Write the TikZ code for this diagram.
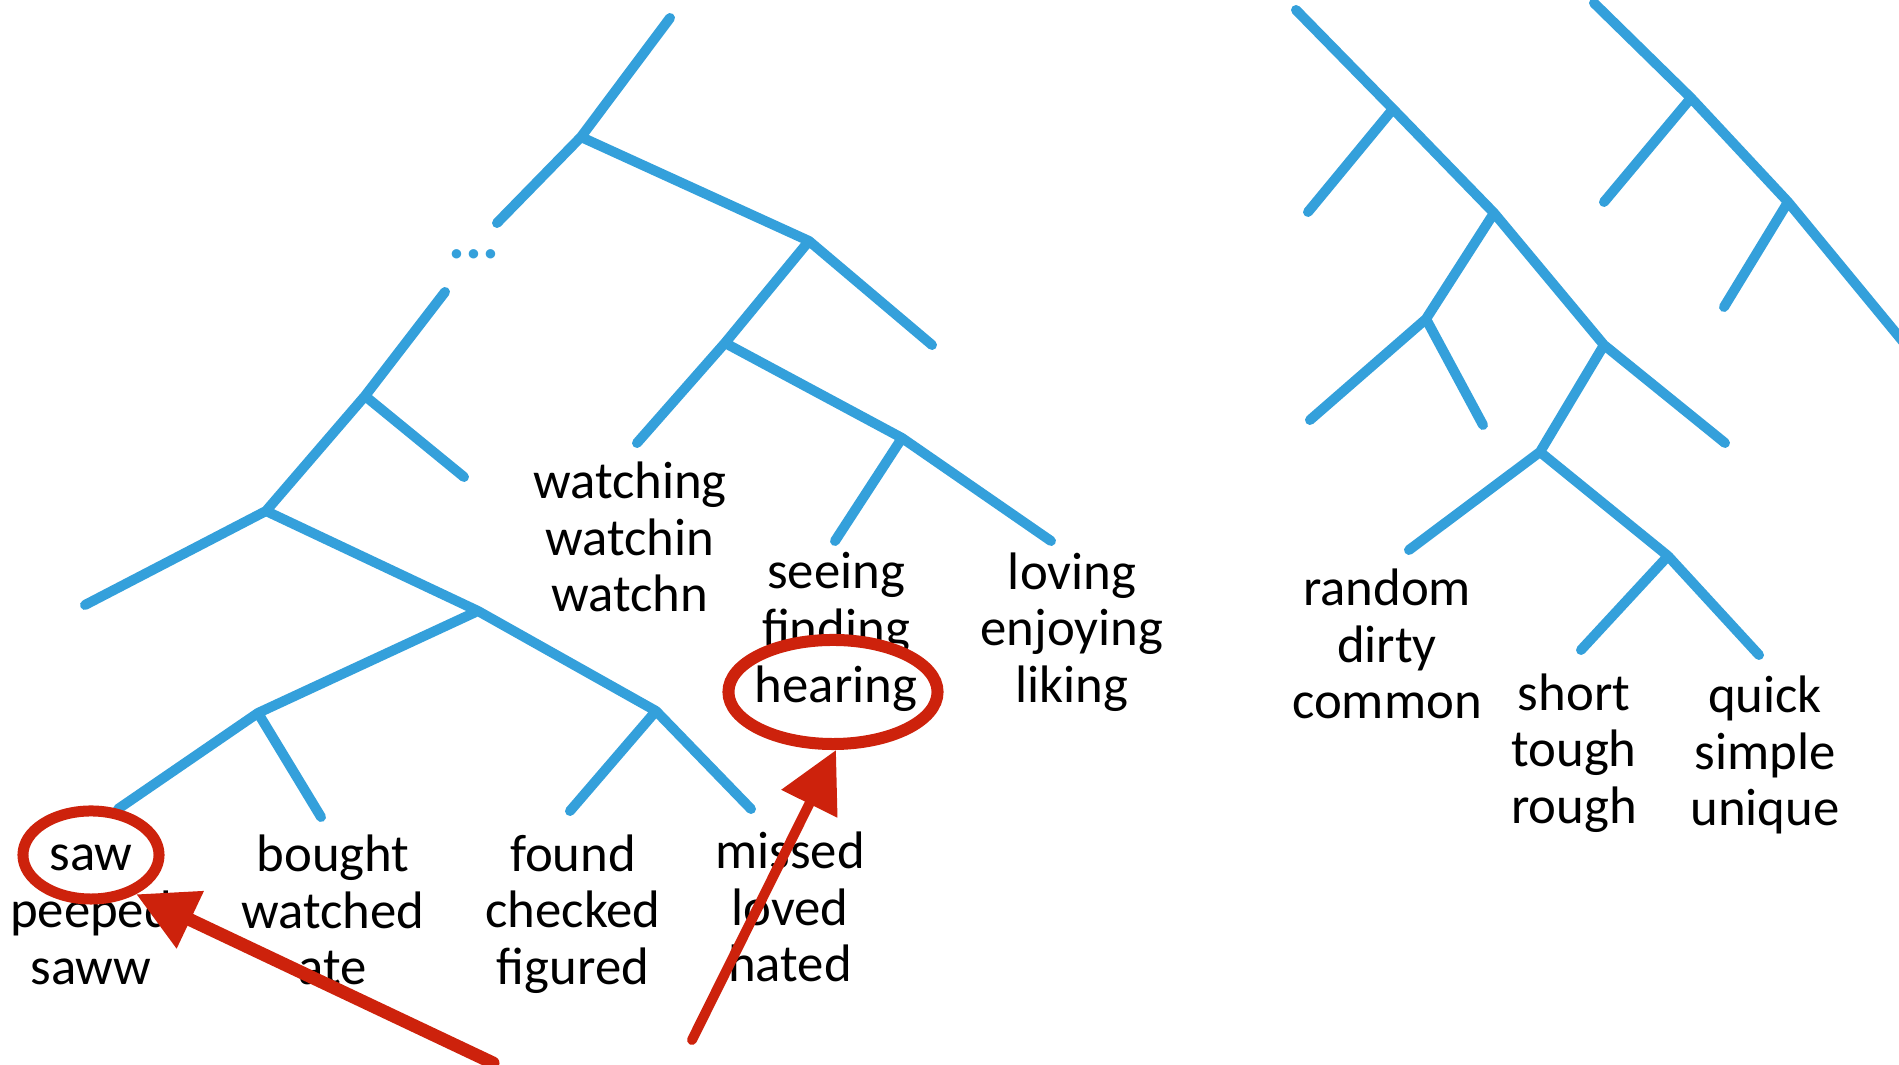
\documentclass[tikz,border=0pt]{standalone}
\usepackage{fontspec}
\setmainfont{Carlito}
\usepackage{tikz}
\usetikzlibrary{arrows.meta, shapes.geometric}
\definecolor{TreeBlue}{RGB}{52,160,219}
\definecolor{MarkRed}{RGB}{205,34,12}

\begin{document}
\begin{tikzpicture}[
  x=0.01cm, y=-0.01cm,
  font=\fontsize{15pt}{16.1pt}\selectfont,
  branch/.style={draw=TreeBlue, line width=0.1cm, line cap=round, line join=round},
  word/.style={align=center, inner sep=0pt},
  gap/.style={text=TreeBlue, inner sep=0pt, font=\fontsize{18pt}{18pt}\selectfont\bfseries},
  ring/.style={draw=MarkRed, ellipse, line width=0.11cm, inner sep=0pt},
  pointer/.style={draw=MarkRed, line cap=round, -{Triangle[length=0.6cm, width=0.6cm]}}
]
\useasboundingbox (0,0) rectangle (1899,1065);

\coordinate (t1) at (670,18);
\coordinate (j1) at (581,137);
\coordinate (e1) at (497,223);
\coordinate (j2) at (809,241);
\coordinate (e2) at (932,345);
\coordinate (j3) at (725,343);
\coordinate (e3) at (637,443);
\coordinate (j4) at (902,438);
\coordinate (e4) at (835,541);
\coordinate (e5) at (1051,541);

\coordinate (t2) at (445,292);
\coordinate (j5) at (365,396);
\coordinate (e6) at (464,477);
\coordinate (j6) at (266,511);
\coordinate (e7) at (85,605);
\coordinate (j7) at (478,611);
\coordinate (j8) at (258,713);
\coordinate (e8) at (118,809);
\coordinate (e9) at (321,817);
\coordinate (j9) at (656,711);
\coordinate (e10) at (570,811);
\coordinate (e11) at (751,809);

\coordinate (t3) at (1296,10);
\coordinate (j10) at (1393,109);
\coordinate (e12) at (1308,212);
\coordinate (j11) at (1494,213);
\coordinate (j12) at (1426,319);
\coordinate (e13) at (1310,420);
\coordinate (e14) at (1483,425);
\coordinate (j13) at (1604,345);
\coordinate (e15) at (1725,443);
\coordinate (j14) at (1540,452);
\coordinate (e16) at (1409,550);
\coordinate (j15) at (1668,556);
\coordinate (e17) at (1581,650);
\coordinate (e18) at (1759,655);

\coordinate (t4) at (1594,3);
\coordinate (j16) at (1691,98);
\coordinate (e19) at (1604,202);
\coordinate (j17) at (1788,202);
\coordinate (e20) at (1724,307);
\coordinate (e21) at (1905,344);

\draw[branch] (t1) -- (j1) -- (e1) (j1) -- (j2) -- (e2) (j2) -- (j3) -- (e3)
  (j3) -- (j4) -- (e4) (j4) -- (e5);
\draw[branch] (t2) -- (j5) -- (e6) (j5) -- (j6) -- (e7) (j6) -- (j7) -- (j8) -- (e8)
  (j8) -- (e9) (j7) -- (j9) -- (e10) (j9) -- (e11);
\draw[branch] (t3) -- (j10) -- (e12) (j10) -- (j11) -- (j12) -- (e13) (j12) -- (e14)
  (j11) -- (j13) -- (e15) (j13) -- (j14) -- (e16) (j14) -- (j15) -- (e17) (j15) -- (e18);
\draw[branch] (t4) -- (j16) -- (e19) (j16) -- (j17) -- (e20) (j17) -- (e21);

\node[gap] (dots) at (474,254) {...};

\node[word] (watch) at (630,537) {watching\\watchin\\watchn};
\node[word] (see) at (836,632) {seeing\\finding\\hearing};
\node[word] (love) at (1072,632) {loving\\enjoying\\liking};
\node[word] (rand) at (1387,644) {random\\dirty\\common};
\node[word] (short) at (1574,753) {short\\tough\\rough};
\node[word] (quick) at (1765,755) {quick\\simple\\unique};
\node[word] (saw) at (91,915) {saw\\peeped\\saww};
\node[word] (buy) at (333,910) {bought\\watched\\ate};
\node[word] (find) at (573,914) {found\\checked\\figured};
\node[word] (miss) at (790,907) {missed\\loved\\hated};

\node[ring, minimum width=1.36cm, minimum height=0.88cm] (sawring) at (91,855) {};
\node[ring, line width=0.12cm, minimum width=2.09cm, minimum height=1.04cm] (hearring) at (833,692) {};

\coordinate (from1) at (493,1063);
\coordinate (from2) at (692,1040);
\draw[pointer, line width=0.13cm] (from1) -- (sawring.-41);
\draw[pointer, line width=0.1cm] (from2) -- (hearring.-87);
\end{tikzpicture}
\end{document}
